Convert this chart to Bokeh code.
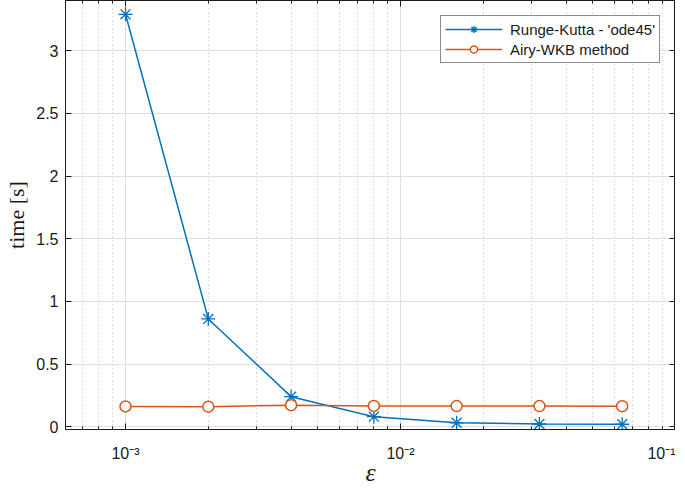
import numpy as np
from bokeh.plotting import figure
from bokeh.models import Range1d, FixedTicker, LogAxis, LinearAxis, CustomJSTickFormatter
from bokeh.embed import file_html
from bokeh.resources import INLINE

# ---- data ----
eps = [1e-3, 2e-3, 4e-3, 8e-3, 1.6e-2, 3.2e-2, 6.4e-2]
t_rk = [3.29, 0.86, 0.24, 0.08, 0.032, 0.022, 0.02]
t_airy = [0.162, 0.160, 0.172, 0.166, 0.165, 0.165, 0.164]
rk_label = "Runge-Kutta - 'ode45'"
airy_label = "Airy-WKB method"
x_label = "\u03b5"
y_label = "time [s]"
x_major = [1e-3, 1e-2, 1e-1]
X_LO, X_HI = 6.05e-4, 0.1
Y_LO, Y_HI = -0.022, 3.4
x_minor = [m * 10.0 ** e for e in (-4, -3, -2) for m in range(2, 10)]
x_minor = [v for v in x_minor if X_LO <= v <= X_HI]
y_ticks = [0, 0.5, 1, 1.5, 2, 2.5, 3]

BLUE = "#0072BD"
ORANGE = "#D95319"
TXT = "#1a1a1a"

p = figure(width=675, height=489, x_axis_type="log",
           x_range=Range1d(X_LO, X_HI), y_range=Range1d(Y_LO, Y_HI),
           output_backend="svg", toolbar_location=None,
           min_border_left=65, min_border_right=0, min_border_top=0,
           min_border_bottom=60)
p.background_fill_color = "white"
p.border_fill_color = "white"
p.outline_line_color = TXT
p.outline_line_width = 1

xt = FixedTicker(ticks=x_major, minor_ticks=x_minor)
yt = FixedTicker(ticks=y_ticks, minor_ticks=[])

sup_fmt = CustomJSTickFormatter(code="""
const e = Math.round(Math.log10(tick));
const sup = {"-":"\u207b","0":"\u2070","1":"\u00b9","2":"\u00b2","3":"\u00b3","4":"\u2074","5":"\u2075","6":"\u2076","7":"\u2077","8":"\u2078","9":"\u2079"};
return "10" + String(e).split("").map(c => sup[c]).join("");
""")
y_fmt = CustomJSTickFormatter(code="return tick.toString();")
blank = CustomJSTickFormatter(code="return '';")

xa = p.xaxis[0]
xa.ticker = xt
xa.formatter = sup_fmt
ya = p.yaxis[0]
ya.ticker = yt
ya.formatter = y_fmt

for ax in (xa, ya):
    ax.axis_line_color = TXT
    ax.major_tick_line_color = TXT
    ax.minor_tick_line_color = TXT
    ax.major_tick_in = 6
    ax.major_tick_out = 0
    ax.minor_tick_in = 3
    ax.minor_tick_out = 0
    ax.major_label_text_font = "Liberation Sans"
    ax.major_label_text_font_size = "16px"
    ax.major_label_text_color = TXT
    ax.axis_label_text_font = "Liberation Serif"
    ax.axis_label_text_color = TXT

xa.major_label_standoff = 15
xa.axis_label = x_label
xa.axis_label_text_font_style = "italic"
xa.axis_label_text_font_size = "26px"
xa.axis_label_standoff = -7

ya.major_label_standoff = 7
ya.axis_label = y_label
ya.axis_label_text_font_style = "normal"
ya.axis_label_text_font_size = "22px"
ya.axis_label_standoff = 4
ya.minor_tick_line_color = None

# top and right box axes (ticks only)
top = LogAxis(ticker=xt, formatter=blank)
right = LinearAxis(ticker=yt, formatter=blank)
for ax in (top, right):
    ax.axis_line_color = TXT
    ax.major_tick_line_color = TXT
    ax.minor_tick_line_color = TXT
    ax.major_tick_in = 6
    ax.major_tick_out = 0
    ax.minor_tick_in = 3
    ax.minor_tick_out = 0
    ax.major_label_text_font_size = "0px"
    ax.major_label_standoff = 0
right.minor_tick_line_color = None
p.add_layout(top, "above")
p.add_layout(right, "right")

# grids
p.xgrid.grid_line_color = "#dedede"
p.xgrid.minor_grid_line_color = "#bdbdbd"
p.xgrid.minor_grid_line_dash = "1 3"
p.ygrid.grid_line_color = "#dedede"
p.ygrid.minor_grid_line_color = None

# data
p.line(eps, t_rk, line_color=BLUE, line_width=1.5, legend_label=rk_label)
p.scatter(eps, t_rk, marker="asterisk", size=14, line_color=BLUE, line_width=1.3,
          legend_label=rk_label)
p.line(eps, t_airy, line_color=ORANGE, line_width=1.5, legend_label=airy_label)
p.scatter(eps, t_airy, marker="circle", size=11, line_color=ORANGE, line_width=1.5,
          fill_color="white", legend_label=airy_label)

lg = p.legend[0]
lg.location = "top_right"
lg.margin = 15
lg.padding = 4
lg.spacing = 2
lg.glyph_width = 57
lg.glyph_height = 18
lg.label_height = 18
lg.label_standoff = 8
lg.label_text_font = "Liberation Sans"
lg.label_text_font_size = "15px"
lg.label_text_color = TXT
lg.border_line_color = TXT
lg.border_line_width = 1
lg.background_fill_color = "white"
lg.background_fill_alpha = 1.0

open("out.html", "w").write(file_html(p, INLINE))
